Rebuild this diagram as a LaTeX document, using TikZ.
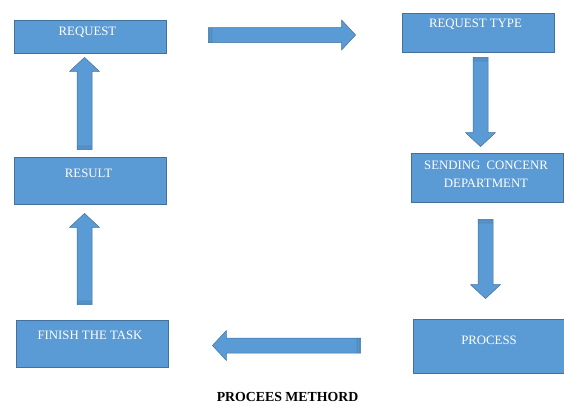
\documentclass[tikz,border=0pt]{standalone}
\usepackage{fontspec}
\setmainfont{Liberation Serif}
\usetikzlibrary{calc}
\definecolor{BoxBlue}{RGB}{91,155,213}
\definecolor{BoxEdge}{RGB}{65,113,156}
\tikzset{
  stepbox/.style={rectangle,draw=BoxEdge,fill=BoxBlue,line width=.8pt,
                  minimum width=152pt,inner sep=0pt},
  steptext/.style={anchor=base,text=white,inner sep=0pt,align=center,
                   font=\fontsize{12.8}{18}\selectfont},
  blockarrow/.style={fill=BoxBlue,draw=BoxEdge,line width=.5pt,
    to path={
      ($(\tikztostart)!7.5pt!90:(\tikztotarget)$)
      -- ($(\tikztotarget)!14pt!(\tikztostart)!7.5pt!90:(\tikztotarget)$)
      -- ($(\tikztotarget)!14pt!(\tikztostart)!15pt!90:(\tikztotarget)$)
      -- (\tikztotarget)
      -- ($(\tikztotarget)!14pt!(\tikztostart)!15pt!-90:(\tikztotarget)$)
      -- ($(\tikztotarget)!14pt!(\tikztostart)!7.5pt!-90:(\tikztotarget)$)
      -- ($(\tikztostart)!7.5pt!-90:(\tikztotarget)$) -- cycle
      ($(\tikztostart)!1.5pt!(\tikztotarget)!7.5pt!90:(\tikztotarget)$)
      -- ($(\tikztostart)!1.5pt!(\tikztotarget)!7.5pt!-90:(\tikztotarget)$)
      ($(\tikztostart)!3.5pt!(\tikztotarget)!7.5pt!90:(\tikztotarget)$)
      -- ($(\tikztostart)!3.5pt!(\tikztotarget)!7.5pt!-90:(\tikztotarget)$)
    }},
}
\begin{document}
\begin{tikzpicture}[x=1pt,y=-1pt]
  \useasboundingbox (0,0) rectangle (564,405);
  % steps
  \node[stepbox,minimum height=33pt] (req) at (90,36.5) {};
  \node[stepbox,minimum height=39pt] (rtype) at (478,32.5) {};
  \node[stepbox,minimum height=49pt] (send) at (487,177.5) {};
  \node[stepbox,minimum height=54pt] (proc) at (489,346) {};
  \node[stepbox,minimum height=47pt] (finish) at (92,343.5) {};
  \node[stepbox,minimum height=47pt] (result) at (90.5,180.5) {};
  \node[steptext] (req-t) at ([xshift=-2.5pt,yshift=-16pt]req.north) {REQUEST};
  \node[steptext] (rtype-t) at ([xshift=-2.5pt,yshift=-15pt]rtype.north) {REQUEST TYPE};
  \node[steptext] (send-t) at ([xshift=-1pt,yshift=-34.5pt]send.north) {SENDING~~CONCENR\\DEPARTMENT};
  \node[steptext] (proc-t) at ([yshift=-26pt]proc.north) {PROCESS};
  \node[steptext] (finish-t) at ([xshift=-2pt,yshift=-20pt]finish.north) {FINISH THE TASK};
  \node[steptext] (result-t) at ([xshift=-2pt,yshift=-21pt]result.north) {RESULT};
  % arrow ends
  \coordinate (a1s) at ($(req.east)+(42,-1.5)$);
  \coordinate (a1t) at ($(rtype.west)+(-46,2.5)$);
  \coordinate (a2s) at ($(rtype.south)+(2.5,5)$);
  \coordinate (a2t) at ($(send.north)+(-6.5,-6)$);
  \coordinate (a3s) at ($(send.south)+(-1.5,17)$);
  \coordinate (a3t) at ($(proc.north)+(-3.5,-20)$);
  \coordinate (a4s) at ($(proc.west)+(-52,-0.5)$);
  \coordinate (a4t) at ($(finish.east)+(44,2)$);
  \coordinate (a5s) at ($(finish.north)+(-7.5,-15)$);
  \coordinate (a5t) at ($(result.south)+(-6,9)$);
  \coordinate (a6s) at ($(result.north)+(-6,-7)$);
  \coordinate (a6t) at ($(req.south)+(-5.5,4)$);
  \draw[blockarrow] (a1s) to (a1t);
  \draw[blockarrow] (a2s) to (a2t);
  \draw[blockarrow] (a3s) to (a3t);
  \draw[blockarrow] (a4s) to (a4t);
  \draw[blockarrow] (a5s) to (a5t);
  \draw[blockarrow] (a6s) to (a6t);
  % caption
  \node[anchor=base,inner sep=0pt,font=\bfseries\fontsize{13.8}{16}\selectfont]
    (title) at (287.5,401.5) {PROCEES METHORD};
\end{tikzpicture}
\end{document}
